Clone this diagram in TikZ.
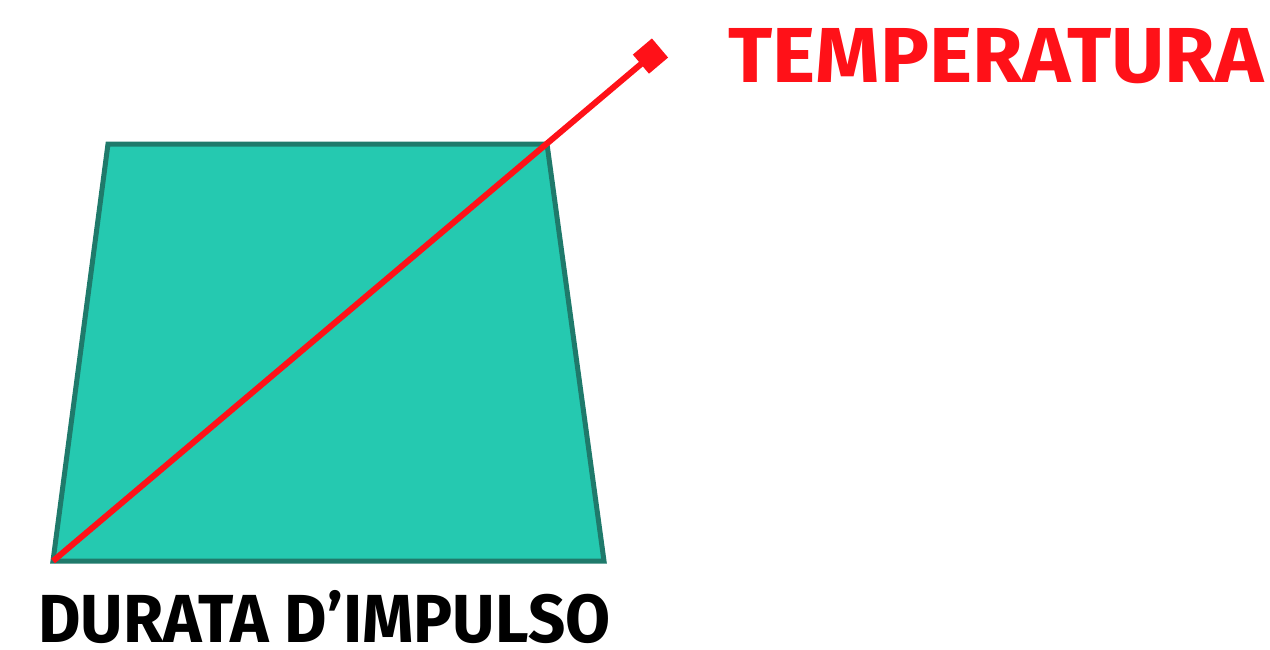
\documentclass[tikz,border=0pt]{standalone}
\usepackage{fontspec}
\setmainfont{Fira Sans}
\usetikzlibrary{arrows.meta,positioning}

\definecolor{tealfill}{HTML}{25C9B0}
\definecolor{tealline}{HTML}{1F7A6B}
\definecolor{tempred}{HTML}{FF1118}

\begin{document}
\begin{tikzpicture}[x=0.5pt, y=-0.5pt,
    trap/.style={fill=tealfill, draw=tealline, line width=2.5pt, line join=miter},
    templine/.style={draw=tempred, line width=3pt, -{Square[length=12.5pt,width=12.5pt]}},
    label/.style={inner sep=0pt, text depth=0pt, font=\fontsize{39}{40}\selectfont\bfseries}]

    \useasboundingbox (0,0) rectangle (1270,649);

    % Trapezio
    \coordinate (tl) at (108,144);
    \coordinate (tr) at (547,144);
    \coordinate (br) at (604,561);
    \coordinate (bl) at (53,561);
    \draw[trap] (tl) -- (tr) -- (br) -- (bl) -- cycle;

    % Testi
    \node[label, text=tempred, anchor=base west] (temp) at (728,82) {\scalebox{1.05}[1]{TEMPERATURA}};
    \node[label, anchor=base west, font=\fontsize{34}{36}\selectfont\bfseries] (durata) at (38,642) {\scalebox{0.96}[1]{DURATA D’IMPULSO}};

    % Linea temperatura
    \coordinate (tip) at (660,48);
    \draw[templine] (bl) -- (tip);

\end{tikzpicture}
\end{document}
